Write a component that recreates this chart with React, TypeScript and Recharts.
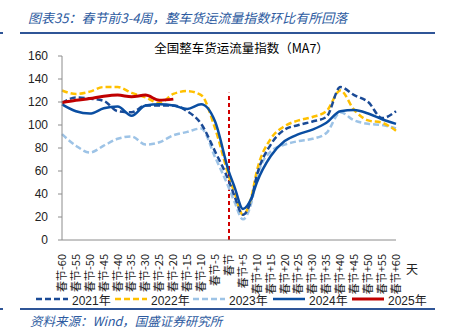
import React from 'react'
import { LineChart, Line, XAxis, YAxis, ReferenceLine } from 'recharts'

const days = [-60, -55, -50, -45, -40, -35, -30, -25, -20, -15, -10, -5, 0, 2, 5, 8, 10, 15, 20, 25, 30, 35, 40, 45, 50, 55, 60]
const tickDays = [-60, -55, -50, -45, -40, -35, -30, -25, -20, -15, -10, -5, 0, 5, 10, 15, 20, 25, 30, 35, 40, 45, 50, 55, 60]
const s2021 = [119, 124, 123, 121, 112, 111, 117, 117, 117, 112, 101, 77, 51, 38, 22, 35, 56, 83, 96, 100, 103, 107, 133, 126, 120, 106, 112]
const s2022 = [130, 127, 129, 133, 133, 128, 124, 119, 127, 129.5, 126, 97, 55, 41, 22, 37, 60, 88, 99, 104, 107, 112, 130, 113, 104, 102, 95]
const s2023 = [92, 82, 76, 82, 88, 90, 83, 85, 91, 94, 97, 72, 45, 33, 18, 32, 54, 77, 83, 86, 88, 93, 111, 104, 101, 100, 97]
const s2024 = [118, 112, 110, 114.5, 116, 108, 117, 118, 117, 114, 118, 103, 59, 46, 27, 36, 50, 73, 86, 92, 96, 102, 112, 113, 110, 105, 101]
const s2025 = [119.5, 121.5, 123, 125, 126, 124.6, 126, 121.5, 122.5]
const yTicks = [0, 20, 40, 60, 80, 100, 120, 140, 160]

const data = days.map((d, i) => ({
  day: d,
  y2021: s2021[i],
  y2022: s2022[i],
  y2023: s2023[i],
  y2024: s2024[i],
  y2025: i < s2025.length ? s2025[i] : null,
}))

const legendItems = [
  { name: '2021年', color: '#1a4a96', dash: '6 3', left: 36 },
  { name: '2022年', color: '#ffc000', dash: '6 3', left: 115 },
  { name: '2023年', color: '#9dc3e6', dash: '6 3', left: 193 },
  { name: '2024年', color: '#0a4ea2', dash: undefined, left: 273 },
  { name: '2025年', color: '#c00000', dash: undefined, left: 352 },
]

const fmtDay = (d: number) => (d === 0 ? '春节' : d > 0 ? `春节+${d}` : `春节${d}`)

const DayTick = (props: any) => {
  const { x, y, payload } = props
  const ty = y + 6
  return (
    <text
      x={x}
      y={ty}
      transform={`rotate(-90, ${x}, ${ty})`}
      textAnchor="end"
      dy="0.35em"
      fontSize={11}
      fill="#222"
      fontFamily="'Noto Sans CJK SC', 'Liberation Sans', sans-serif"
    >
      {fmtDay(payload.value)}
    </text>
  )
}

const font = "'Liberation Sans', Arial, 'Noto Sans CJK SC', sans-serif"

export default function App() {
  return (
    <div style={{ position: 'absolute', left: 0, top: 0, width: 451, height: 335, background: '#fff', fontFamily: font }}>
      <div style={{ position: 'absolute', left: 28, top: 8, fontSize: 13, fontStyle: 'italic', color: '#2c5aa0', fontFamily: "'Noto Sans CJK SC', sans-serif", whiteSpace: 'nowrap' }}>
        图表35：春节前3-4周，整车货运流量指数环比有所回落
      </div>
      <div style={{ position: 'absolute', left: 20, top: 32, width: 415, height: 2, background: '#2f5597' }} />
      <div style={{ position: 'absolute', left: 0, top: 32, width: 3, height: 2, background: '#2f5597' }} />
      <div style={{ position: 'absolute', left: 0, top: 38, width: 451, textAlign: 'center', fontSize: 12.5, color: '#000', fontFamily: "'Noto Sans CJK SC', sans-serif", paddingLeft: 32, boxSizing: 'border-box' }}>
        全国整车货运流量指数（MA7）
      </div>

      <div style={{ position: 'absolute', left: 0, top: 0 }}>
        <LineChart width={451} height={335} data={data} margin={{ top: 56, right: 55, left: 0, bottom: 50 }}>
          <XAxis
            dataKey="day"
            type="number"
            domain={[-60, 60]}
            ticks={tickDays}
            interval={0}
            height={45}
            tick={<DayTick />}
            tickLine={false}
            axisLine={{ stroke: '#8c8c8c' }}
          />
          <YAxis
            domain={[0, 160]}
            ticks={yTicks}
            width={62}
            tickSize={4}
            tickMargin={10}
            tick={{ fontSize: 12, fill: '#222', fontFamily: font }}
            tickLine={{ stroke: '#8c8c8c' }}
            axisLine={{ stroke: '#8c8c8c' }}
          />
          <ReferenceLine
            segment={[{ x: 0, y: 0 }, { x: 0, y: 128 }]}
            stroke="#d00000"
            strokeWidth={2}
            strokeDasharray="4 3"
          />
          <Line type="monotone" dataKey="y2023" stroke="#9dc3e6" strokeWidth={2.5} strokeDasharray="6 3" dot={false} isAnimationActive={false} />
          <Line type="monotone" dataKey="y2022" stroke="#ffc000" strokeWidth={2.5} strokeDasharray="6 3" dot={false} isAnimationActive={false} />
          <Line type="monotone" dataKey="y2021" stroke="#1a4a96" strokeWidth={2.5} strokeDasharray="6 3" dot={false} isAnimationActive={false} />
          <Line type="monotone" dataKey="y2024" stroke="#0a4ea2" strokeWidth={2.5} dot={false} isAnimationActive={false} />
          <Line type="monotone" dataKey="y2025" stroke="#c00000" strokeWidth={3} dot={false} isAnimationActive={false} />
        </LineChart>
      </div>

      <div style={{ position: 'absolute', left: 406, top: 260, fontSize: 12, color: '#222', fontFamily: "'Noto Sans CJK SC', sans-serif" }}>天</div>

      {legendItems.map((it) => (
        <div key={it.name} style={{ position: 'absolute', left: it.left, top: 290, height: 18, display: 'flex', alignItems: 'center', whiteSpace: 'nowrap' }}>
          <svg width={34} height={6}>
            <line x1={0} y1={3} x2={32} y2={3} stroke={it.color} strokeWidth={it.name === '2025年' ? 3 : 2.5} strokeDasharray={it.dash} />
          </svg>
          <span style={{ fontSize: 12, color: '#222', marginLeft: 2 }}>{it.name}</span>
        </div>
      ))}

      <div style={{ position: 'absolute', left: 20, top: 308, width: 415, height: 2, background: '#2f5597' }} />
      <div style={{ position: 'absolute', left: 0, top: 308, width: 3, height: 2, background: '#2f5597' }} />
      <div style={{ position: 'absolute', left: 30, top: 311, fontSize: 12.5, fontStyle: 'italic', color: '#2c5aa0', fontFamily: "'Noto Sans CJK SC', sans-serif", whiteSpace: 'nowrap' }}>
        资料来源：Wind，国盛证券研究所
      </div>
    </div>
  )
}
